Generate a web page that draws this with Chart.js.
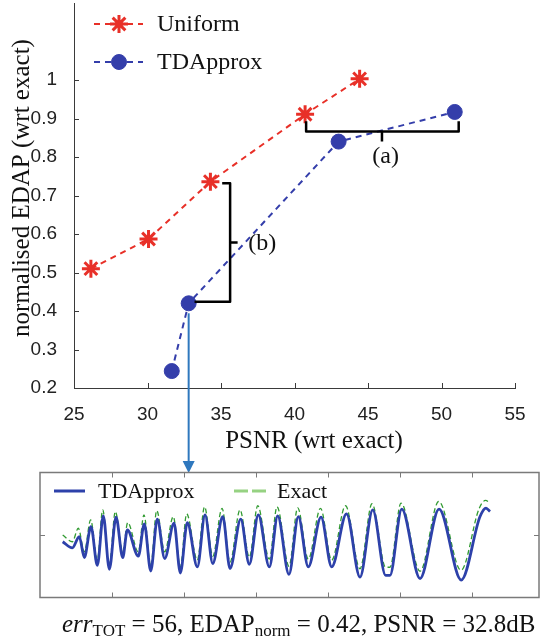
<!DOCTYPE html>
<html>
<head>
<meta charset="utf-8">
<script src="https://cdn.jsdelivr.net/npm/chart.js@4.4.1/dist/chart.umd.min.js"></script>
<style>
  html, body { margin: 0; padding: 0; background: #fff; }
  body { width: 541px; height: 640px; position: relative; overflow: hidden; }
  #main { position: absolute; left: 0; top: 0; }
  #inset { position: absolute; left: 0; top: 460px; }
  #caption {
    position: absolute; left: 62px; top: 611px;
    font-family: "Liberation Serif", serif; font-size: 25px; line-height: 25px;
    color: #111; white-space: nowrap;
  }
  #caption sub { font-size: 0.68em; vertical-align: -0.22em; line-height: 0; }
</style>
</head>
<body>
<canvas id="main" width="541" height="475"></canvas>
<canvas id="inset" width="541" height="140"></canvas>
<div id="caption"><i>err</i><sub>TOT</sub> = 56, EDAP<sub>norm</sub> = 0.42, PSNR = 32.8dB</div>
<script>
// main plot data
const seriesNames = ['Uniform', 'TDApprox'];
const uniformPsnr = [26.15, 30.07, 34.28, 40.72, 44.43];
const uniformEdap = [0.51, 0.587, 0.736, 0.911, 1.003];
const tdPsnr = [31.65, 32.8, 43.0, 50.9];
const tdEdap = [0.244, 0.42, 0.84, 0.917];
const xTicks = [25, 30, 35, 40, 45, 50, 55];
const yTicks = [0.2, 0.3, 0.4, 0.5, 0.6, 0.7, 0.8, 0.9, 1];
const xTitle = 'PSNR (wrt exact)';
const yTitle = 'normalised EDAP (wrt exact)';
const selected = 1; // TDApprox point shown in the inset

// brackets (data coords)
const bracketA = { x1: 40.79, x2: 51.17, y: 0.866, tip: 0.893, mid: 45.95, midEnd: 0.84, label: '(a)', lx: 46.2, ly: 0.80 };
const bracketB = { x: 35.62, tipTop: 35.08, tipBottom: 33.2, y1: 0.732, y2: 0.424, mid: 0.578, midEnd: 36.13, label: '(b)', lx: 37.8, ly: 0.576 };

// inset data (waveform)
const insetNames = ['TDApprox', 'Exact'];
const tdTime = [0.315, 0.449, 0.546, 0.615, 0.708, 0.796, 0.879, 0.963, 1.056, 1.149, 1.213, 1.365, 1.449, 1.538, 1.629,
  1.732, 1.861, 1.949, 2.046, 2.185, 2.292, 2.399, 2.538, 2.639, 2.788, 2.907, 3.032, 3.185, 3.301, 3.458,
  3.588, 3.726, 3.903, 4.051, 4.257, 4.444, 4.621, 4.80, 4.86, 5.024, 5.278, 5.542, 5.850, 6.111, 6.194, 6.25];
const tdSignal = [-0.108, -0.205, -0.027, -0.360, 0.134, -0.484, 0.306, -0.548, 0.285, -0.360, 0.081, -0.339, 0.177, -0.576, 0.253,
  -0.376, 0.189, -0.608, 0.198, -0.511, 0.323, -0.456, 0.295, -0.537, 0.253, -0.468, 0.323, -0.511, 0.306, -0.629,
  0.295, -0.511, 0.285, -0.511, 0.339, -0.673, 0.403, -0.645, -0.645, 0.415, -0.698, 0.415, -0.721, 0.295, 0.431, 0.376];
const exactTime = [0.315, 0.449, 0.532, 0.615, 0.704, 0.796, 0.871, 0.963, 1.046, 1.149, 1.218, 1.365, 1.444, 1.538, 1.621,
  1.732, 1.851, 1.949, 2.037, 2.185, 2.285, 2.399, 2.528, 2.639, 2.778, 2.907, 3.024, 3.185, 3.292, 3.458,
  3.579, 3.726, 3.896, 4.051, 4.243, 4.444, 4.611, 4.80, 4.86, 5.014, 5.278, 5.538, 5.847, 6.097, 6.188, 6.25];
const exactSignal = [0.0, -0.108, 0.108, -0.269, 0.242, -0.403, 0.403, -0.484, 0.376, -0.269, 0.198, -0.269, 0.323, -0.50, 0.392,
  -0.269, 0.295, -0.516, 0.339, -0.403, 0.452, -0.339, 0.427, -0.435, 0.403, -0.355, 0.468, -0.387, 0.452, -0.50,
  0.435, -0.387, 0.427, -0.403, 0.468, -0.54, 0.50, -0.516, -0.516, 0.511, -0.58, 0.537, -0.565, 0.419, 0.553, 0.508];
const insetXTicks = [1, 2, 3, 4, 5, 6];
const insetYTicks = [0];

const red = 'rgb(232,48,40)';
const blue = 'rgb(52,62,170)';
const axisColor = '#3a3a3a';
const serif = '"Liberation Serif", serif';
const sans = '"Liberation Sans", Arial, sans-serif';

function pts(xs, ys) {
  return xs.map((v, i) => ({ x: v, y: ys[i] }));
}

const mainDecor = {
  id: 'mainDecor',
  afterDraw(chart) {
    const { ctx, chartArea: a, scales: { x, y } } = chart;
    ctx.save();
    // inward tick marks
    ctx.strokeStyle = axisColor;
    ctx.lineWidth = 1;
    yTicks.forEach(v => {
      const py = Math.round(y.getPixelForValue(v)) + 0.5;
      ctx.beginPath(); ctx.moveTo(a.left, py); ctx.lineTo(a.left + 5, py); ctx.stroke();
    });
    xTicks.forEach(v => {
      const px = Math.round(x.getPixelForValue(v)) + 0.5;
      ctx.beginPath(); ctx.moveTo(px, a.bottom); ctx.lineTo(px, a.bottom - 5); ctx.stroke();
    });

    // axis titles
    ctx.fillStyle = '#111';
    ctx.font = '25px ' + serif;
    ctx.textAlign = 'center';
    ctx.textBaseline = 'middle';
    ctx.fillText(xTitle, 314, 441);
    ctx.save();
    ctx.translate(22, 188);
    ctx.rotate(-Math.PI / 2);
    ctx.fillText(yTitle, 0, 0);
    ctx.restore();

    // brackets
    ctx.strokeStyle = '#000';
    ctx.lineWidth = 2.5;
    ctx.lineJoin = 'round';
    const A = bracketA;
    ctx.beginPath();
    ctx.moveTo(x.getPixelForValue(A.x1), y.getPixelForValue(A.tip));
    ctx.lineTo(x.getPixelForValue(A.x1), y.getPixelForValue(A.y));
    ctx.lineTo(x.getPixelForValue(A.x2), y.getPixelForValue(A.y));
    ctx.lineTo(x.getPixelForValue(A.x2), y.getPixelForValue(A.tip));
    ctx.moveTo(x.getPixelForValue(A.mid), y.getPixelForValue(A.y));
    ctx.lineTo(x.getPixelForValue(A.mid), y.getPixelForValue(A.midEnd));
    ctx.stroke();
    const B = bracketB;
    ctx.beginPath();
    ctx.moveTo(x.getPixelForValue(B.tipTop), y.getPixelForValue(B.y1));
    ctx.lineTo(x.getPixelForValue(B.x), y.getPixelForValue(B.y1));
    ctx.lineTo(x.getPixelForValue(B.x), y.getPixelForValue(B.y2));
    ctx.lineTo(x.getPixelForValue(B.tipBottom), y.getPixelForValue(B.y2));
    ctx.moveTo(x.getPixelForValue(B.x), y.getPixelForValue(B.mid));
    ctx.lineTo(x.getPixelForValue(B.midEnd), y.getPixelForValue(B.mid));
    ctx.stroke();
    ctx.font = '24px ' + serif;
    ctx.fillText(A.label, x.getPixelForValue(A.lx), y.getPixelForValue(A.ly));
    ctx.fillText(B.label, x.getPixelForValue(B.lx), y.getPixelForValue(B.ly));

    // arrow to inset
    const ax = x.getPixelForValue(tdPsnr[selected]);
    const ay = y.getPixelForValue(tdEdap[selected]) + 10;
    ctx.strokeStyle = 'rgb(47,120,190)';
    ctx.fillStyle = 'rgb(47,120,190)';
    ctx.lineWidth = 2;
    ctx.beginPath(); ctx.moveTo(ax, ay); ctx.lineTo(ax, 462); ctx.stroke();
    ctx.beginPath(); ctx.moveTo(ax - 6, 461); ctx.lineTo(ax + 6, 461); ctx.lineTo(ax, 473); ctx.closePath(); ctx.fill();

    // legend
    const rows = [24, 62];
    chart.data.datasets.forEach((ds, i) => {
      const ly = rows[i];
      ctx.strokeStyle = ds.borderColor;
      ctx.lineWidth = 2;
      ctx.setLineDash([6, 5]);
      ctx.beginPath(); ctx.moveTo(94, ly); ctx.lineTo(143, ly); ctx.stroke();
      ctx.setLineDash([]);
      ctx.strokeStyle = ds.pointBorderColor;
      ctx.fillStyle = ds.pointBackgroundColor;
      ctx.lineWidth = ds.pointBorderWidth;
      Chart.helpers.drawPoint(ctx, { pointStyle: ds.pointStyle, radius: ds.pointRadius, borderWidth: ds.pointBorderWidth, rotation: 0 }, 119, ly);
      ctx.fillStyle = '#111';
      ctx.font = '24px ' + serif;
      ctx.textAlign = 'left';
      ctx.fillText(ds.label, 157, ly + 1);
    });
    ctx.restore();
  }
};

new Chart(document.getElementById('main'), {
  type: 'scatter',
  data: {
    datasets: [
      {
        label: seriesNames[0],
        data: pts(uniformPsnr, uniformEdap),
        showLine: true,
        borderColor: red,
        borderWidth: 2,
        borderDash: [6, 5],
        pointStyle: 'star',
        pointRadius: 9,
        pointBorderWidth: 3,
        pointBorderColor: red,
        pointBackgroundColor: red
      },
      {
        label: seriesNames[1],
        data: pts(tdPsnr, tdEdap),
        showLine: true,
        borderColor: blue,
        borderWidth: 2,
        borderDash: [6, 5],
        pointStyle: 'circle',
        pointRadius: 7.5,
        pointBorderWidth: 1,
        pointBorderColor: blue,
        pointBackgroundColor: blue
      }
    ]
  },
  options: {
    responsive: false,
    animation: false,
    devicePixelRatio: 1,
    layout: { autoPadding: false, padding: { top: 3, right: 26, left: 0, bottom: 0 } },
    plugins: { legend: { display: false }, tooltip: { enabled: false } },
    scales: {
      x: {
        min: 25, max: 55,
        grid: { display: false },
        border: { color: axisColor, width: 1 },
        afterBuildTicks: s => { s.ticks = xTicks.map(v => ({ value: v })); },
        afterFit: s => { s.height = 87; s.paddingLeft = 0; s.paddingRight = 0; },
        ticks: { font: { family: sans, size: 19 }, color: '#222', padding: 7, maxRotation: 0 }
      },
      y: {
        min: 0.2, max: 1.2,
        grid: { display: false },
        border: { color: axisColor, width: 1 },
        afterBuildTicks: s => { s.ticks = yTicks.map(v => ({ value: v })); },
        afterFit: s => { s.width = 74; s.paddingTop = 0; s.paddingBottom = 0; },
        ticks: { font: { family: sans, size: 19 }, color: '#222', padding: 9, callback: v => String(v) }
      }
    }
  },
  plugins: [mainDecor]
});

const insetDecor = {
  id: 'insetDecor',
  afterDraw(chart) {
    const { ctx, chartArea: a, scales: { x, y } } = chart;
    ctx.save();
    ctx.strokeStyle = '#7a7a7a';
    ctx.lineWidth = 1.5;
    ctx.strokeRect(a.left, a.top, a.right - a.left, a.bottom - a.top);
    ctx.lineWidth = 1;
    insetXTicks.forEach(v => {
      const px = Math.round(x.getPixelForValue(v)) + 0.5;
      ctx.beginPath(); ctx.moveTo(px, a.bottom); ctx.lineTo(px, a.bottom - 5); ctx.stroke();
      ctx.beginPath(); ctx.moveTo(px, a.top); ctx.lineTo(px, a.top + 5); ctx.stroke();
    });
    insetYTicks.forEach(v => {
      const py = Math.round(y.getPixelForValue(v)) + 0.5;
      ctx.beginPath(); ctx.moveTo(a.left, py); ctx.lineTo(a.left + 5, py); ctx.stroke();
      ctx.beginPath(); ctx.moveTo(a.right, py); ctx.lineTo(a.right - 5, py); ctx.stroke();
    });

    // legend
    const ly = 31;
    const ds = chart.data.datasets;
    ctx.strokeStyle = ds[0].borderColor;
    ctx.lineWidth = 3;
    ctx.beginPath(); ctx.moveTo(54, ly); ctx.lineTo(85, ly); ctx.stroke();
    ctx.strokeStyle = 'rgb(150,210,130)';
    ctx.setLineDash([14, 4]);
    ctx.beginPath(); ctx.moveTo(234, ly); ctx.lineTo(267, ly); ctx.stroke();
    ctx.setLineDash([]);
    ctx.fillStyle = '#111';
    ctx.font = '22px ' + serif;
    ctx.textAlign = 'left';
    ctx.textBaseline = 'middle';
    ctx.fillText(ds[0].label, 98, ly + 1);
    ctx.fillText(ds[1].label, 277, ly + 1);
    ctx.restore();
  }
};

new Chart(document.getElementById('inset'), {
  type: 'scatter',
  data: {
    datasets: [
      {
        label: insetNames[0],
        data: pts(tdTime, tdSignal),
        showLine: true,
        borderColor: 'rgb(45,65,170)',
        borderWidth: 2.8,
        pointRadius: 0,
        cubicInterpolationMode: 'monotone'
      },
      {
        label: insetNames[1],
        data: pts(exactTime, exactSignal),
        showLine: true,
        borderColor: 'rgb(50,155,50)',
        borderWidth: 1.3,
        borderDash: [5, 3],
        pointRadius: 0,
        cubicInterpolationMode: 'monotone'
      }
    ]
  },
  options: {
    responsive: false,
    animation: false,
    devicePixelRatio: 1,
    layout: { autoPadding: false, padding: { top: 12.5, right: 2, left: 40, bottom: 2.5 } },
    plugins: { legend: { display: false }, tooltip: { enabled: false } },
    scales: {
      x: { display: false, min: 0, max: 6.93 },
      y: { display: false, min: -1, max: 1 }
    }
  },
  plugins: [insetDecor]
});
</script>
</body>
</html>
